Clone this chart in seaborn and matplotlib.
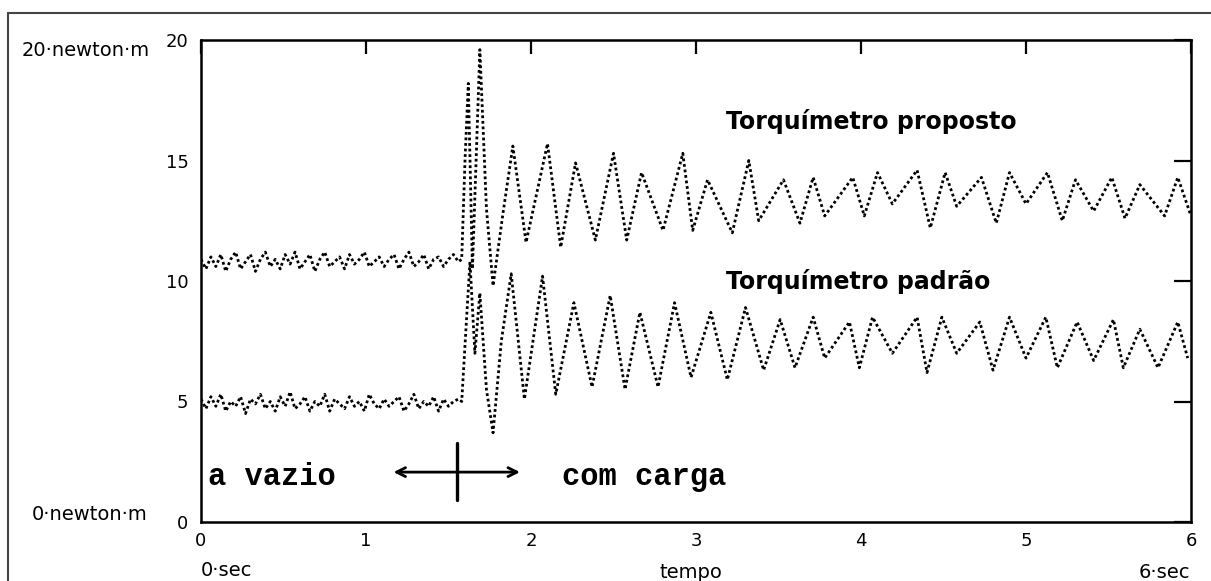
import numpy as np
import pandas as pd
import matplotlib.pyplot as plt
import seaborn as sns
from matplotlib.lines import Line2D

# motor sem carga: samples every 0.03 s
idle_t = np.round(np.arange(0, 1.57, 0.03), 2)
idle_proposto = [10.9, 10.5, 11.0, 10.6, 11.1, 10.4, 10.9, 11.2, 10.5, 10.8,
                 11.1, 10.4, 10.9, 11.2, 10.6, 10.9, 10.5, 11.1, 10.7, 11.2,
                 10.5, 10.8, 11.1, 10.4, 10.9, 11.2, 10.6, 10.8, 11.0, 10.5,
                 11.1, 10.7, 10.9, 11.2, 10.6, 10.8, 11.0, 10.6, 10.9, 11.1,
                 10.5, 10.9, 11.2, 10.6, 10.8, 11.1, 10.5, 10.9, 11.0, 10.6,
                 10.9, 11.1, 10.8]
idle_padrao = [5.1, 4.7, 5.2, 4.8, 5.3, 4.6, 5.0, 4.8, 5.2, 4.5,
               5.1, 4.9, 5.3, 4.7, 5.0, 4.6, 5.2, 4.8, 5.4, 4.7,
               4.9, 5.2, 4.6, 5.0, 4.8, 5.3, 4.6, 5.1, 4.9, 4.7,
               5.2, 4.8, 5.0, 4.6, 5.3, 4.9, 4.7, 5.1, 4.8, 5.0,
               5.2, 4.6, 4.9, 5.3, 4.7, 5.0, 4.8, 5.2, 4.6, 5.1,
               4.8, 5.0, 5.1]

# com carga: peaks and valleys
load_t_proposto = [1.58, 1.60, 1.62, 1.645, 1.69, 1.73, 1.77, 1.83, 1.89, 1.97,
                   2.10, 2.18, 2.27, 2.39, 2.50, 2.58, 2.67, 2.80, 2.92, 2.98,
                   3.07, 3.22, 3.32, 3.38, 3.53, 3.63, 3.71, 3.78, 3.95, 4.02,
                   4.10, 4.19, 4.34, 4.42, 4.51, 4.58, 4.73, 4.82, 4.90, 5.00,
                   5.13, 5.22, 5.30, 5.41, 5.52, 5.60, 5.69, 5.84, 5.92, 6.00]
load_proposto = [10.9, 15.0, 18.2, 10.5, 19.6, 13.0, 9.8, 12.8, 15.6, 11.6,
                 15.7, 11.4, 14.9, 11.7, 15.3, 11.7, 14.5, 12.1, 15.3, 12.1,
                 14.2, 12.0, 15.0, 12.5, 14.2, 12.4, 14.3, 12.7, 14.3, 12.7,
                 14.5, 13.2, 14.6, 12.2, 14.5, 13.1, 14.3, 12.4, 14.5, 13.2,
                 14.5, 12.5, 14.2, 12.9, 14.3, 12.6, 14.0, 12.7, 14.3, 12.7]
load_t_padrao = [1.58, 1.61, 1.63, 1.66, 1.69, 1.73, 1.77, 1.82, 1.88, 1.96,
                 2.07, 2.15, 2.26, 2.37, 2.48, 2.57, 2.66, 2.77, 2.87, 2.97,
                 3.09, 3.19, 3.30, 3.41, 3.51, 3.60, 3.71, 3.78, 3.93, 3.99,
                 4.07, 4.19, 4.34, 4.40, 4.49, 4.58, 4.72, 4.80, 4.90, 5.00,
                 5.12, 5.19, 5.31, 5.41, 5.53, 5.59, 5.69, 5.80, 5.92, 5.98]
load_padrao = [5.0, 8.5, 10.8, 7.0, 9.5, 5.5, 3.7, 7.5, 10.3, 5.1,
               10.2, 5.3, 9.1, 5.6, 9.4, 5.5, 8.7, 5.6, 9.1, 6.0,
               8.7, 5.9, 8.9, 6.3, 8.4, 6.4, 8.5, 6.8, 8.3, 6.4,
               8.5, 7.0, 8.5, 6.2, 8.5, 7.0, 8.3, 6.3, 8.5, 6.8,
               8.5, 6.4, 8.3, 6.7, 8.4, 6.4, 8.0, 6.4, 8.3, 6.8]

df = pd.concat([
    pd.DataFrame({"tempo": np.concatenate([idle_t, load_t_proposto]),
                  "torque": idle_proposto + load_proposto, "sensor": "proposto"}),
    pd.DataFrame({"tempo": np.concatenate([idle_t, load_t_padrao]),
                  "torque": idle_padrao + load_padrao, "sensor": "padrão"}),
])

sns.set_style("white")
plt.rcParams["font.family"] = ["DejaVu Sans"]
plt.rcParams["text.color"] = "black"

W, H = 1211, 581
fig = plt.figure(figsize=(W / 100, H / 100), dpi=100)
ax = fig.add_axes([201 / W, 1 - 522 / H, 990 / W, 482 / H])

sns.lineplot(data=df, x="tempo", y="torque", hue="sensor",
             palette={"proposto": "black", "padrão": "black"},
             estimator=None, sort=False, legend=False,
             lw=2.0, linestyle=(0, (1, 1.0)), ax=ax)

ax.set_xlim(0, 6)
ax.set_ylim(0, 20)
ax.set_xticks(range(7))
ax.set_yticks([0, 5, 10, 15, 20])
ax.set_xlabel("")
ax.set_ylabel("")
for s in ax.spines.values():
    s.set_linewidth(1.8)
    s.set_color("black")
ax.tick_params(direction="in", top=True, right=True, width=1.6, labelsize=13,
               colors="black")
ax.tick_params(axis="x", length=10, pad=7)
ax.tick_params(axis="y", length=12, pad=9)

# curve labels
ax.text(3.18, 16.6, "Torquímetro proposto", fontsize=17, fontweight="bold",
        ha="left", va="center")
ax.text(3.18, 10.0, "Torquímetro padrão", fontsize=17, fontweight="bold",
        ha="left", va="center")

# a vazio / com carga marker
mono = ["Liberation Mono", "DejaVu Sans Mono"]
ax.text(0.04, 1.85, "a vazio", fontsize=22, fontweight="bold", family=mono,
        ha="left", va="center")
ax.text(2.19, 1.85, "com carga", fontsize=22, fontweight="bold", family=mono,
        ha="left", va="center")
ax.annotate("", xy=(1.15, 2.07), xytext=(1.95, 2.07),
            arrowprops=dict(arrowstyle="<->", lw=2, color="black",
                            mutation_scale=16))
ax.plot([1.55, 1.55], [0.91, 3.28], color="black", lw=2.4)

# unit labels around the frame
fig.text(22 / W, 1 - 50 / H, "20·newton·m", fontsize=14, ha="left", va="center")
fig.text(32 / W, 1 - 515 / H, "0·newton·m", fontsize=14, ha="left", va="center")
fig.text(201 / W, 1 - 571 / H, "0·sec", fontsize=14, ha="left", va="center")
fig.text(691 / W, 1 - 572 / H, "tempo", fontsize=14, ha="center", va="center")
fig.text(1190 / W, 1 - 572 / H, "6·sec", fontsize=14, ha="right", va="center")

# scanned page border
fig.add_artist(Line2D([8 / W, 1], [1 - 13 / H] * 2, transform=fig.transFigure,
                      color="#444444", lw=1.5))
fig.add_artist(Line2D([8 / W] * 2, [0, 1 - 13 / H], transform=fig.transFigure,
                      color="#444444", lw=1.5))

plt.savefig("out.png", dpi=100)
